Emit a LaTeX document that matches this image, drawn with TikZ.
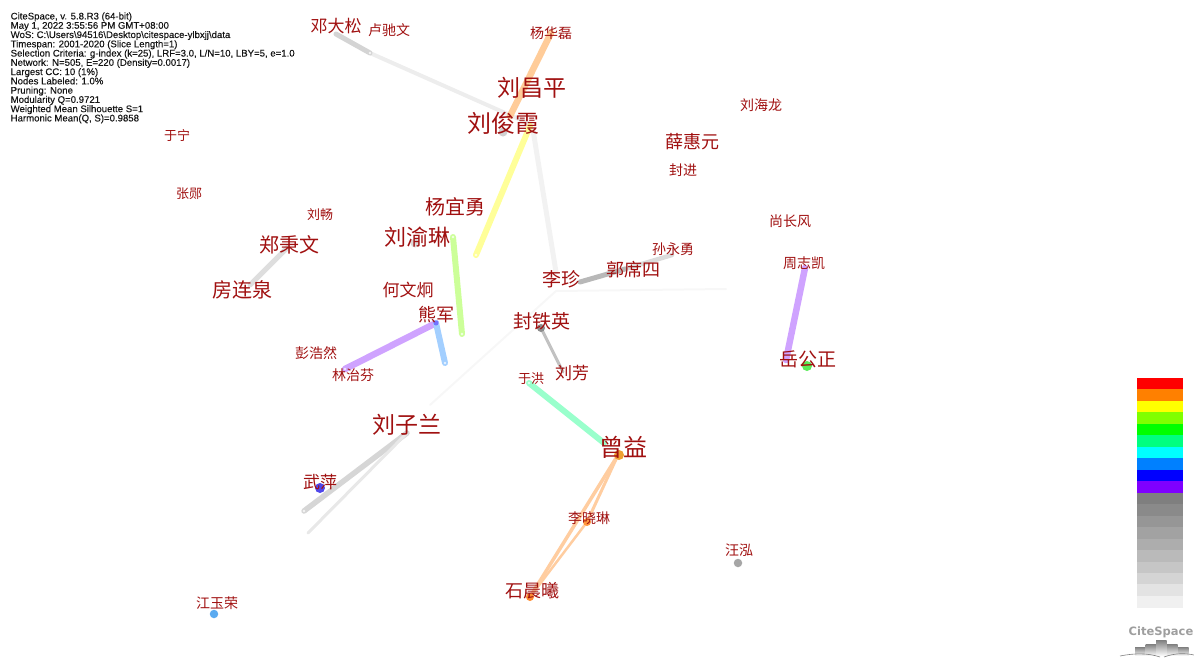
\documentclass[tikz,border=0pt]{standalone}
\usepackage{fontspec}
\setmainfont{Liberation Sans}[BoldFont=Liberation Sans,BoldFeatures={FakeBold=0.2}]
\newfontfamily\cjk{Noto Sans CJK SC}
\newfontfamily\logofont{DejaVu Sans}
\definecolor{lbl}{HTML}{A01010}
\definecolor{epurple}{HTML}{CFA3FF}
\definecolor{eblue}{HTML}{A3CFFF}
\definecolor{eyellow}{HTML}{FFFF99}
\definecolor{elime}{HTML}{CCFF99}
\definecolor{emint}{HTML}{99FFCC}
\definecolor{eorange}{HTML}{FFCC99}
\definecolor{eorangeb}{HTML}{FFCDA0}
\tikzset{
 x=1pt,y=-1pt,
 lab/.style={text=lbl,inner sep=0pt,font=\cjk\fontsize{#1}{#1}\selectfont},
 edge/.style={line cap=round,line width=#1},
 dot/.style={circle,inner sep=0pt,minimum size=#1},
 ring/.style={circle,inner sep=0pt,minimum size=2.6pt,fill=white,fill opacity=.75},
}
\begin{document}
\begin{tikzpicture}
\useasboundingbox (0,0) rectangle (1194,659);
% anchors
\foreach \n/\x/\y in {a1/336/34,a2/370/53,a3/530/124,b1/551/33,b2/510/116,c1/530/126,c2/476/255,d1/533/130,d2/556/272,
 e1/453/237,e2/462/334,f1/436/323,f2/345/369,g1/445/363,h1/556/291,h2/430/405,i1/580/282,im/625/269,i2/672/255,j2/726/289,
 k1/541/328,k2/563/372,l1/529/383,l2/604/443,m1/618/455,m2/587/522,m3/530/597,n1/407/433,n2/304/511,n3/308/533,
 o1/805/268,o2/786/360,p1/288/247,p2/250/285}
 {\coordinate (\n) at (\x,\y);}
% edges
\draw[edge=4,black!7] (a2) -- (a3);
\draw[edge=5,black!17] (a1) -- (a2);
\draw[edge=5,black!5] (d1) -- (d2);
\draw[edge=2,black!3] (h1) -- (h2);
\draw[edge=2,black!3] (h1) -- (j2);
\draw[edge=6.5,eorange] (b1) -- (b2);
\draw[edge=6,eyellow] (c1) -- (c2);
\draw[edge=6,elime] (e1) -- (e2);
\draw[edge=6.5,epurple] (f1) -- (f2);
\draw[edge=6,eblue] (f1) -- (g1);
\draw[edge=4.5,black!14] (im) -- (i2);
\draw[edge=5,black!28] (i1) -- (im);
\draw[edge=3,black!24] (k1) -- (k2);
\draw[edge=6,emint] (l1) -- (l2);
\draw[edge=3.5,eorangeb] (m1) -- (m3);
\draw[edge=3,eorangeb] (m1) -- (m2);
\draw[edge=2.5,eorangeb] (m2) -- (m3);
\draw[edge=5.5,black!16] (n1) -- (n2);
\draw[edge=3,black!9] (n1) -- (n3);
\draw[edge=6.5,epurple] (o1) -- (o2);
\draw[edge=5,black!13] (p1) -- (p2);
% line end marks
\foreach \p in {a2,c2,e1,e2,f2,g1,l1,n2}{\node[ring] at (\p) {};}
% dots
\node[dot=9,fill=black!18] (dq) at (503,132) {};
\node[dot=9,fill=black!14] (dr) at (415,243) {};
\node[dot=8,fill=black!45] (dt) at (541,328) {};
\node[dot=5,fill=blue!55] (df) at (436,323) {};
\node[dot=10,fill={rgb,255:red,80;green,72;blue,235}] (dw) at (320,488) {};
\node[dot=10,fill={rgb,255:red,238;green,160;blue,50}] (dz) at (619,455) {};
\node[dot=8,fill={rgb,255:red,255;green,150;blue,60}] (dl) at (587,522) {};
\node[dot=8,fill={rgb,255:red,255;green,140;blue,50}] (ds) at (530,597) {};
\node[dot=10,fill={rgb,255:red,90;green,235;blue,90}] (dy) at (807,366) {};
\node[dot=8.5,fill=black!35] (dh) at (738,563) {};
\node[dot=8.5,fill={rgb,255:red,90;green,170;blue,240}] (dj) at (214,614) {};
% labels
\node[lab=17] (t1) at (336,26) {邓大松};
\node[lab=14] (t2) at (389,30) {卢驰文};
\node[lab=14] (t3) at (551,33) {杨华磊};
\node[lab=23] (t4) at (532,88) {刘昌平};
\node[lab=24] (t5) at (503,123) {刘俊霞};
\node[lab=14] (t6) at (761,105) {刘海龙};
\node[lab=18] (t7) at (692,142) {薛惠元};
\node[lab=14] (t8) at (683,170) {封进};
\node[lab=13] (t9) at (177,135) {于宁};
\node[lab=13] (t10) at (189,194) {张郧};
\node[lab=13] (t11) at (320,215) {刘畅};
\node[lab=20] (t12) at (455,207) {杨宜勇};
\node[lab=22] (t13) at (417,237) {刘渝琳};
\node[lab=20] (t14) at (289,245) {郑秉文};
\node[lab=20] (t15) at (242,290) {房连泉};
\node[lab=17] (t16) at (408,290) {何文炯};
\node[lab=18] (t17) at (436,315) {熊军};
\node[lab=19] (t18) at (542,321) {封铁英};
\node[lab=19] (t19) at (561,279) {李珍};
\node[lab=18] (t20) at (633,270) {郭席四};
\node[lab=14] (t21) at (673,249) {孙永勇};
\node[lab=14] (t22) at (790,221) {尚长风};
\node[lab=14] (t23) at (804,263) {周志凯};
\node[lab=19] (t24) at (808,359) {岳公正};
\node[lab=14] (t25) at (316,353) {彭浩然};
\node[lab=14] (t26) at (353,375) {林治芬};
\node[lab=13] (t27) at (531,379) {于洪};
\node[lab=17] (t28) at (572,373) {刘芳};
\node[lab=23] (t29) at (407,425) {刘子兰};
\node[lab=24] (t30) at (623,447) {曾益};
\node[lab=17] (t31) at (320,482) {武萍};
\node[lab=14] (t32) at (589,518) {李晓琳};
\node[lab=14] (t33) at (739,550) {汪泓};
\node[lab=18] (t34) at (532,591) {石晨曦};
\node[lab=14] (t35) at (217,603) {江玉荣};
% info
\node[anchor=north west,inner sep=0pt,align=left,font=\bfseries\fontsize{9.6}{9.27}\selectfont,text=black!92] (info) at (10.5,12.3) {CiteSpace, v. 5.8.R3 (64-bit)\\May 1, 2022 3:55:56 PM GMT+08:00\\WoS: C:\string\Users\string\94516\string\Desktop\string\citespace-ylbxjj\string\data\\Timespan: 2001-2020 (Slice Length=1)\\Selection Criteria: g-index (k=25), LRF=3.0, L/N=10, LBY=5, e=1.0\\Network: N=505, E=220 (Density=0.0017)\\Largest CC: 10 (1\%)\\Nodes Labeled: 1.0\%\\Pruning: None\\Modularity Q=0.9721\\Weighted Mean Silhouette S=1\\Harmonic Mean(Q, S)=0.9858};
% colour bar
\foreach \i/\c in {0/FF0000,1/FF8000,2/FFFF00,3/80FF00,4/00FF00,5/00FF80,6/00FFFF,7/0080FF,8/0000FF,9/7F00FF,
 10/7F7F7F,11/8A8A8A,12/969696,13/A2A2A2,14/ADADAD,15/BABABA,16/C6C6C6,17/D4D4D4,18/E3E3E3,19/F0F0F0}{
 \definecolor{bandc}{HTML}{\c}
 \fill[bandc] (1137,378+\i*11.47) rectangle (1183,378+\i*11.47+11.6);
}
% logo
\node[inner sep=0pt,text=black!38,font=\logofont\bfseries\fontsize{11.5}{12}\selectfont] (logo) at (1161,632) {CiteSpace};
\foreach \x/\y in {1135/647,1145.5/644,1156/640,1167/644,1178/647}{
 \shade[top color=black!50,bottom color=white] (\x,\y) rectangle ++(10.5,656-\y);
}
\draw[black!50,line width=.6] (1120,656) .. controls (1135,653) and (1148,653) .. (1160,657);
\draw[black!50,line width=.6] (1164,657) .. controls (1175,653) and (1185,653) .. (1194,655);
\end{tikzpicture}
\end{document}
